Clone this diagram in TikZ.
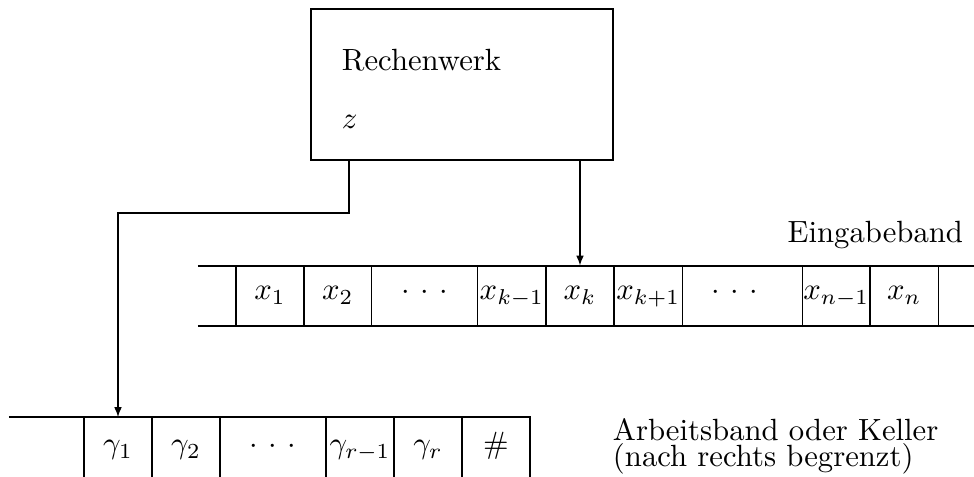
\documentclass[tikz,border=0pt]{standalone}
\usepackage{amsmath, amssymb}
\usepackage{tikz}
\usetikzlibrary{arrows.meta, positioning, calc}
\newcommand{\pkte}{{\cdot}\hspace{3.4pt}{\cdot}\hspace{3.4pt}{\cdot}}

\begin{document}
\begin{tikzpicture}[x=0.3257pt, y=-0.3257pt,
  cell/.style={draw, inner sep=0pt, outer sep=0pt, minimum height=19.9pt,
               text height=5pt, text depth=2.4pt},
  lbl/.style={inner sep=0pt, outer sep=0pt},
  arr/.style={-{Latex[length=3.2pt,width=2.5pt]}}]
\useasboundingbox (0,0) rectangle (974,477);

% Rechenwerk
\node[draw, inner sep=0pt, outer sep=0pt, minimum width=98.4pt,
      minimum height=49.2pt] (rw) at (462,84.5) {};
\node[lbl, anchor=base west] (rwtext) at (342,70) {Rechenwerk};
\node[lbl, anchor=base west] (zust) at (342,128) {$z$};

% Eingabeband
\draw (198,266) -- (974,266);
\draw (198,326) -- (974,326);
\foreach \l/\r/\t/\n in {236/304/x_1/in1, 304/371.5/x_2/in2,
    371.5/477.5/\pkte/in3, 477.5/546/x_{k-1}/in4, 546/614/x_k/in5,
    614/682.5/x_{k+1}/in6, 682.5/802.5/\pkte\hspace{5pt}/in7,
    802.5/870/x_{n-1}/in8, 870/938.5/x_n/in9}
  \node[cell, minimum width={(\r-\l)*0.3257pt}] (\n) at ({(\l+\r)/2},296) {$\t$};
\draw (938.5,266) -- (938.5,326);
\node[lbl, anchor=base east] (eingabe) at (963,242) {Eingabeband};

% Arbeitsband (Keller)
\draw (9,417) -- (84,417);
\foreach \l/\r/\t/\n in {84/152/\gamma_1/ab1, 152/220/\gamma_2/ab2,
    220/326/\pkte/ab3, 326/394/\gamma_{r-1}/ab4, 394/462/\gamma_r/ab5,
    462/530/\#/ab6}
  \node[cell, minimum width={(\r-\l)*0.3257pt}, minimum height=21.5pt]
    (\n) at ({(\l+\r)/2},450) {$\t$};
\node[lbl, anchor=base west, align=left] (arbeit) at (613,466.5)
  {Arbeitsband oder Keller\\[-3.5pt](nach rechts begrenzt)};

% Verbindungen
\coordinate (knick) at (349,213);
\draw[arr] (rw.south -| knick) -- (knick) -| (ab1.north);
\draw[arr] (rw.south -| in5) -- (in5.north);
\end{tikzpicture}
\end{document}
